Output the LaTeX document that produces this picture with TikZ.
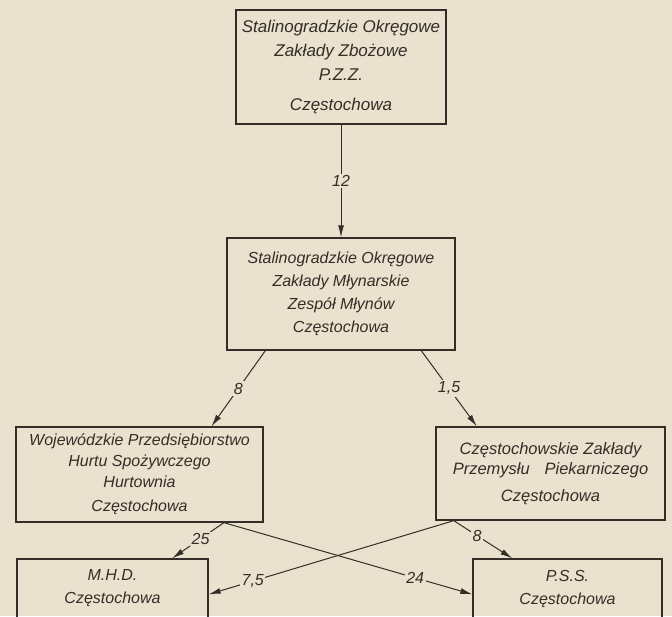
\documentclass[tikz,border=0pt]{standalone}
\usepackage{fontspec}
\setmainfont{Liberation Sans}
\usetikzlibrary{positioning, calc, arrows.meta}
\definecolor{paper}{RGB}{234,226,206}
\definecolor{ink}{RGB}{52,46,40}

\begin{document}
\begin{tikzpicture}[x=1pt, y=-1pt, font=\fontsize{16}{23}\selectfont\itshape,
    box/.style={draw=ink, line width=1.3pt, align=center, text=ink, inner sep=0pt},
    flow/.style={draw=ink, line width=1pt, -{Latex[length=12pt,width=6pt]}},
    qty/.style={fill=paper, inner sep=1.5pt, text=ink}]

        % Paper
        \fill[paper] (0,0) rectangle (672,616);
        \useasboundingbox (0,0) rectangle (672,616);

        % Boxes
        \node[box, minimum width=210pt, minimum height=114pt, font=\fontsize{17}{24}\selectfont\itshape] (szz) at (341,67)
            {Stalinogradzkie Okręgowe\\ Zakłady Zbożowe\\ P.Z.Z.\\[6pt] Częstochowa};
        \node[box, minimum width=228pt, minimum height=112pt] (szm) at (341,294)
            {Stalinogradzkie Okręgowe\\ Zakłady Młynarskie\\ Zespół Młynów\\ Częstochowa};
        \node[box, minimum width=247pt, minimum height=95pt, font=\fontsize{16}{21}\selectfont\itshape] (wph) at (139.5,474.5)
            {Wojewódzkie Przedsiębiorstwo\\ Hurtu Spożywczego\\ Hurtownia\\[3pt] Częstochowa};
        \node[box, minimum width=229pt, minimum height=93pt, font=\fontsize{16.5}{23}\selectfont\itshape] (czp) at (550.5,473.5)
            {Częstochowskie Zakłady\\[-3pt] Przemysłu\hspace{0.9em}Piekarniczego\\[4pt] Częstochowa};
        \node[box, minimum width=191pt, minimum height=59pt] (mhd) at (112.5,588.5)
            {M.H.D.\\ Częstochowa};
        \node[box, minimum width=189pt, minimum height=59pt] (pss) at (567.5,588.5)
            {P.S.S.\\ Częstochowa};

        % Flows
        \draw[flow] (szz.south) -- node[qty] {12} (szm.north);
        \draw[flow] ($(szm.south west)!0.17!(szm.south east)$) -- node[qty] {8}
            ($(wph.north west)!0.79!(wph.north east)$);
        \draw[flow] ($(szm.south west)!0.85!(szm.south east)$) -- node[qty] {1,5}
            ($(czp.north west)!0.18!(czp.north east)$);

        \draw[flow] ($(wph.south west)!0.84!(wph.south east)$) -- node[qty, pos=0.45] {25}
            ($(mhd.north west)!0.81!(mhd.north east)$);
        \draw[flow] ($(wph.south west)!0.84!(wph.south east)$) -- node[qty, pos=0.77] {24}
            ($(pss.north west)+(0,36)$);
        \draw[flow] ($(czp.south west)!0.08!(czp.south east)$) -- node[qty, pos=0.82] {7,5}
            ($(mhd.north east)+(0,36)$);
        \draw[flow] ($(czp.south west)!0.08!(czp.south east)$) -- node[qty, pos=0.4] {8}
            ($(pss.north west)!0.21!(pss.north east)$);

\end{tikzpicture}
\end{document}
